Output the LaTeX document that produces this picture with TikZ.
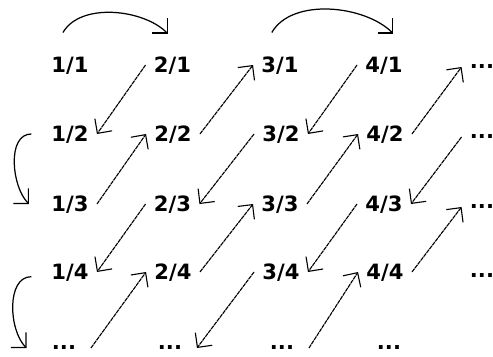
\documentclass[tikz,border=0pt]{standalone}
\usepackage{fontspec}
\setmainfont{DejaVu Sans}
\usepackage{tikz}
\usetikzlibrary{positioning, arrows.meta}

\begin{document}
\begin{tikzpicture}[x=0.03cm, y=0.03cm,
  ratnode/.style={font=\bfseries\fontsize{18}{20}\selectfont, text height=13.1pt, text depth=0pt, inner xsep=7pt, inner ysep=0pt},
  dotnode/.style={font=\bfseries\fontsize{18}{20}\selectfont, inner xsep=7pt, inner ysep=0pt},
  dotcell/.style={dotnode, minimum width=45.6pt},
  diagarrow/.style={-{Straight Barb[length=9pt, width=18pt]}, line width=0.95pt, dash pattern=on 3.5pt off 0.6pt},
  arcarrow/.style={-{Straight Barb[length=9pt, width=18pt]}, line width=1.05pt}]
  \useasboundingbox (0,0) rectangle (493,-356);

  % the fractions p/q
  \node[ratnode] (r11) at (70,-65) {1/1};
  \node[ratnode] (r21) at (172.5,-65) {2/1};
  \node[ratnode] (r31) at (280,-65) {3/1};
  \node[ratnode] (r41) at (384,-65) {4/1};
  \node[ratnode] (r12) at (70,-134) {1/2};
  \node[ratnode] (r22) at (173,-134) {2/2};
  \node[ratnode] (r32) at (281,-134) {3/2};
  \node[ratnode] (r42) at (385,-134) {4/2};
  \node[ratnode] (r13) at (70,-204) {1/3};
  \node[ratnode] (r23) at (172.5,-204) {2/3};
  \node[ratnode] (r33) at (280,-204) {3/3};
  \node[ratnode] (r43) at (384,-204) {4/3};
  \node[ratnode] (r14) at (70,-272) {1/4};
  \node[ratnode] (r24) at (173,-272) {2/4};
  \node[ratnode] (r34) at (281,-272) {3/4};
  \node[ratnode] (r44) at (385,-272) {4/4};

  % dots
  \node[dotnode] (e51) at (482,-67) {...};
  \node[dotnode] (e52) at (482,-137) {...};
  \node[dotnode] (e53) at (482,-207) {...};
  \node[dotnode] (e54) at (482,-276) {...};
  \node[dotcell] (e15) at (64,-348) {...};
  \node[dotcell] (e25) at (170,-348) {...};
  \node[dotcell] (e35) at (282,-348) {...};
  \node[dotcell] (e45) at (389,-348) {...};

  % arcs
  \draw[arcarrow] ([xshift=-6pt, yshift=21pt]r11.north) to[out=60, in=135, looseness=0.85] ([xshift=-4pt, yshift=20pt]r21.north);
  \draw[arcarrow] ([xshift=-7pt, yshift=21pt]r31.north) to[out=60, in=135, looseness=0.85] ([xshift=8pt, yshift=20pt]r41.north);
  \draw[arcarrow] ([xshift=-10pt]r12.west) to[out=180, in=135, looseness=0.9] ([xshift=-12pt]r13.west);
  \draw[arcarrow] ([xshift=-10pt, yshift=-4pt]r14.west) to[out=180, in=135, looseness=0.9] ([xshift=-9pt]e15.west);

  % zigzag
  \draw[diagarrow] (r21.west) -- (r12.east);
  \draw[diagarrow] (r13.east) -- (r22.west);
  \draw[diagarrow] (r22.east) -- (r31.west);
  \draw[diagarrow] (r41.west) -- (r32.east);
  \draw[diagarrow] (r32.west) -- (r23.east);
  \draw[diagarrow] (r23.west) -- (r14.east);
  \draw[diagarrow] (e15.east) -- (r24.west);
  \draw[diagarrow] (r24.east) -- (r33.west);
  \draw[diagarrow] (r33.east) -- (r42.west);
  \draw[diagarrow] (r42.east) -- (e51.west);
  \draw[diagarrow] (e52.west) -- (r43.east);
  \draw[diagarrow] (r43.west) -- (r34.east);
  \draw[diagarrow] (r34.west) -- (e25.east);
  \draw[diagarrow] (e35.east) -- (r44.west);
  \draw[diagarrow] (r44.east) -- (e53.west);
\end{tikzpicture}
\end{document}
